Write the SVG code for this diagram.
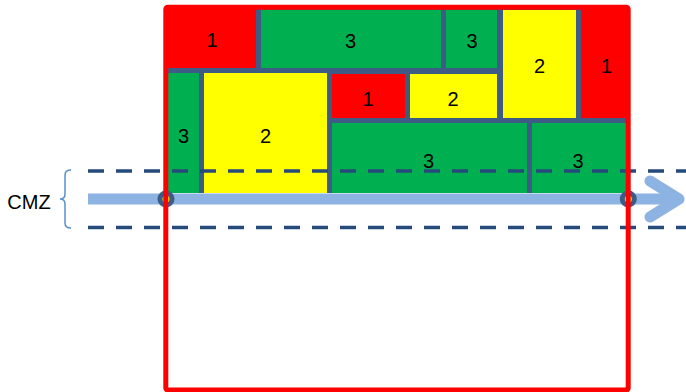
<svg xmlns="http://www.w3.org/2000/svg" width="686" height="392" viewBox="0 0 686 392">
<style>
.red{fill:#FF0000}
.grn{fill:#00B050}
.yel{fill:#FFFF00}
.lbl{font-family:"Liberation Sans",Arial,sans-serif;font-size:20px;fill:#000;text-anchor:middle}
.dash{stroke:#264A7C;stroke-width:3.6;stroke-dasharray:16 12;fill:none}
.flow{stroke:#8DB3E2;stroke-width:11;fill:none}
</style>
<rect width="686" height="392" fill="#fff"/>
<g id="blocks">
<rect x="165" y="7" width="463" height="186" fill="#3E5B86"/>
<g id="b1a"><rect class="red" x="166" y="7" width="90" height="61"/><text class="lbl" x="212" y="47">1</text></g>
<g id="b3a"><rect class="grn" x="261" y="10" width="180" height="58"/><text class="lbl" x="350.5" y="48">3</text></g>
<g id="b3b"><rect class="grn" x="446" y="10" width="51" height="58"/><text class="lbl" x="472" y="48">3</text></g>
<g id="b2a"><rect class="yel" x="503" y="10" width="73" height="108"/><text class="lbl" x="539.5" y="73">2</text></g>
<g id="b1b"><rect class="red" x="581" y="7" width="47" height="111"/><text class="lbl" x="606.5" y="73">1</text></g>
<g id="b3c"><rect class="grn" x="166" y="73" width="33" height="120"/><text class="lbl" x="183.5" y="143">3</text></g>
<g id="b2b"><rect class="yel" x="204" y="73" width="123" height="120"/><text class="lbl" x="265.5" y="143">2</text></g>
<g id="b1c"><rect class="red" x="332" y="74" width="73" height="44"/><text class="lbl" x="368" y="106">1</text></g>
<g id="b2c"><rect class="yel" x="410" y="74" width="87" height="44"/><text class="lbl" x="453" y="106">2</text></g>
<g id="b3d"><rect class="grn" x="332" y="123" width="195" height="70"/><text class="lbl" x="428.5" y="168">3</text></g>
<g id="b3e"><rect class="grn" x="532" y="123" width="96" height="70"/><text class="lbl" x="578" y="168">3</text></g>
</g>
<g id="connectors">
<line class="dash" x1="88" y1="171" x2="686" y2="171"/>
<line class="dash" x1="88" y1="227.5" x2="686" y2="227.5"/>
<line class="flow" x1="88" y1="199" x2="677" y2="199"/>
<polyline class="flow" points="650,181 679,199 650,217" stroke-linecap="round" stroke-linejoin="round"/>
</g>
<g id="cmz">
<path d="M71,170 Q65,170 65,175 L65,194 Q65,199 60,199 Q65,199 65,204 L65,223 Q65,228 71,228" fill="none" stroke="#5B8FCB" stroke-width="1.5"/>
<text x="29" y="209" font-family="'Liberation Sans',Arial,sans-serif" font-size="20" text-anchor="middle">CMZ</text>
</g>
<g id="points">
<circle cx="166" cy="199" r="8.5" fill="#3E5B86"/><circle cx="166" cy="199" r="3.5" fill="#FFFF00"/>
<circle cx="628.3" cy="199" r="8.5" fill="#3E5B86"/><circle cx="628.3" cy="199" r="3.5" fill="#FFFF00"/>
</g>
<g id="frame">
<rect x="165.8" y="7.2" width="462.4" height="382.8" rx="2" fill="none" stroke="#FF0000" stroke-width="5"/>
</g>
</svg>
